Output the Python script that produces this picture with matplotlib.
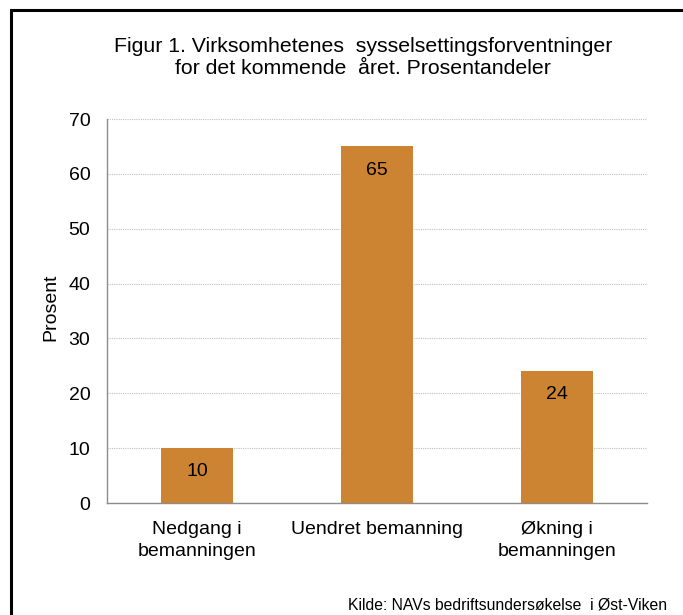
import matplotlib
matplotlib.use("Agg")
import matplotlib.pyplot as plt
from matplotlib.patches import Rectangle

# Chart data
categories = ["Nedgang i\nbemanningen", "Uendret bemanning", "Økning i\nbemanningen"]
values = [10, 65, 24]
y_ticks = [0, 10, 20, 30, 40, 50, 60, 70]

title_lines = ["Figur 1. Virksomhetenes  sysselsettingsforventninger",
               "for det kommende  året. Prosentandeler"]
source_text = "Kilde: NAVs bedriftsundersøkelse  i Øst-Viken"

BAR_COLOR = "#CD8432"
plt.rcParams["font.family"] = ["Liberation Sans", "DejaVu Sans"]

fig = plt.figure(figsize=(6.83, 6.15), dpi=100)
ax = fig.add_axes([107 / 683, 1 - 503 / 615, 540 / 683, 384 / 615])

# Outer black frame (runs off the right/bottom edge like the original)
fig.patches.append(Rectangle((11 / 683, -0.05), 1.0, 1 - 10 / 615 + 0.05,
                             transform=fig.transFigure, fill=False,
                             edgecolor="black", linewidth=2.2, zorder=10))

x = range(len(categories))
bars = ax.bar(x, values, width=0.4, color=BAR_COLOR, zorder=3)

# Value labels inside the bars near their top
for rect, v in zip(bars, values):
    ax.annotate(str(v), (rect.get_x() + rect.get_width() / 2, rect.get_height()),
                xytext=(0, -17), textcoords="offset points",
                ha="center", va="center", fontsize=14, color="black", zorder=4)

ax.set_xlim(-0.5, len(categories) - 0.5)
ax.set_ylim(0, 70)
ax.set_yticks(y_ticks)
ax.set_xticks(list(x))
ax.set_xticklabels(categories, fontsize=14, linespacing=1.35)
ax.tick_params(axis="y", length=0, pad=12, labelsize=14)
ax.tick_params(axis="x", length=0, pad=13)

ax.grid(axis="y", linestyle=(0, (1, 1)), color="#BFBFBF", linewidth=0.8, zorder=0)
ax.set_axisbelow(True)
for side in ["top", "right"]:
    ax.spines[side].set_visible(False)
for side in ["left", "bottom"]:
    ax.spines[side].set_color("#8C8C8C")
    ax.spines[side].set_linewidth(1.0)

ax.set_ylabel("Prosent", fontsize=14)
ax.yaxis.set_label_coords(59 / 683, 0.5, transform=fig.transFigure)

fig.text(363 / 683, 1 - 46 / 615, title_lines[0], ha="center", va="center", fontsize=15.3)
fig.text(363 / 683, 1 - 69 / 615, title_lines[1], ha="center", va="center", fontsize=15.3)
fig.text(667 / 683, 1 - 605 / 615, source_text, ha="right", va="center", fontsize=11.3)

fig.savefig("out.png", dpi=100)
